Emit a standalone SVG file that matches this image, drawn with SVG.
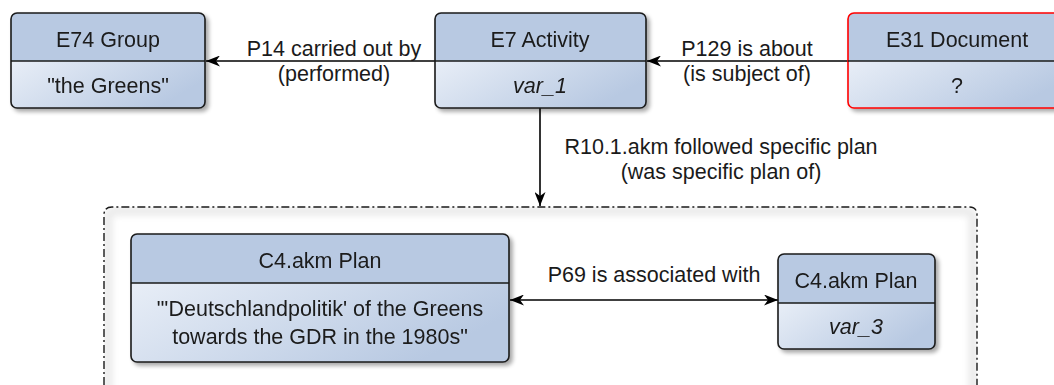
<svg xmlns="http://www.w3.org/2000/svg" width="1054" height="385" viewBox="0 0 1054 385">
<style>
text{font-family:"Liberation Sans",Arial,sans-serif;font-size:21.5px;fill:#1a1a1a;text-anchor:middle}
.it{font-style:italic}
.hdr{fill:#b8c9e2}
.body{fill:url(#bodyGrad)}
.frame{fill:none;stroke:#1a1a1a;stroke-width:1.6}
.red{stroke:#ff0000}
.div{stroke:#1a1a1a;stroke-width:1.6}
.conn{stroke:#000;stroke-width:1.6;fill:none}
</style>
<defs>
<linearGradient id="bodyGrad" x1="0" y1="0" x2="1" y2="0.4">
<stop offset="0" stop-color="#e8eef7"/>
<stop offset="1" stop-color="#b8c9e2"/>
</linearGradient>
<filter id="shadow" x="-10%" y="-10%" width="130%" height="140%">
<feGaussianBlur in="SourceAlpha" stdDeviation="2"/>
<feOffset dx="3" dy="3" result="b"/>
<feComponentTransfer><feFuncA type="linear" slope="0.35"/></feComponentTransfer>
<feMerge><feMergeNode/><feMergeNode in="SourceGraphic"/></feMerge>
</filter>
<filter id="blur" x="-5%" y="-5%" width="110%" height="110%">
<feGaussianBlur stdDeviation="3"/>
</filter>
<clipPath id="cclip">
<path d="M104,390 L104,215 Q104,207 112,207 L969,207 Q977,207 977,215 L977,390 Z"/>
</clipPath>
<marker id="arr" viewBox="0 0 14 11" refX="14" refY="5.5" markerWidth="14" markerHeight="11" markerUnits="userSpaceOnUse" orient="auto-start-reverse">
<path d="M0,0 L14,5.5 L0,11 L4,5.5 Z" fill="#000"/>
</marker>
</defs>

<g id="container">
<path d="M104,390 L104,215 Q104,207 112,207 L969,207 Q977,207 977,215 L977,390 Z" fill="#ffffff"/>
<g clip-path="url(#cclip)">
<path d="M108,395 L108,219 Q108,211 116,211 L965,211 Q973,211 973,219 L973,395" fill="none" stroke="#ececec" stroke-width="10" filter="url(#blur)"/>
</g>
<path d="M104,385 L104,215 Q104,207 112,207 L969,207 Q977,207 977,215 L977,385" fill="none" stroke="#1a1a1a" stroke-width="1.4" stroke-dasharray="8 3 2 3"/>
</g>

<g id="connectors">
<line class="conn" x1="435" y1="61" x2="206" y2="61" marker-end="url(#arr)"/>
<line class="conn" x1="848" y1="61" x2="647" y2="61" marker-end="url(#arr)"/>
<line class="conn" x1="540" y1="108" x2="540" y2="206" marker-end="url(#arr)"/>
<line class="conn" x1="510" y1="300" x2="778" y2="300" marker-start="url(#arr)" marker-end="url(#arr)"/>
<text x="334" y="56">P14 carried out by</text>
<text x="334" y="81">(performed)</text>
<text x="747" y="56">P129 is about</text>
<text x="747" y="81">(is subject of)</text>
<text x="721" y="154">R10.1.akm followed specific plan</text>
<text x="721" y="179">(was specific plan of)</text>
<text x="654" y="282">P69 is associated with</text>
</g>

<g id="e74" filter="url(#shadow)">
<path class="hdr" d="M11,61 V19 Q11,13 17,13 H199 Q205,13 205,19 V61 Z"/>
<path class="body" d="M11,61 H205 V102 Q205,108 199,108 H17 Q11,108 11,102 Z"/>
<rect class="frame" x="11" y="13" width="194" height="95" rx="6"/>
<line class="div" x1="11" y1="61" x2="205" y2="61"/>
<text x="108" y="47">E74 Group</text>
<text x="108" y="93">"the Greens"</text>
</g>

<g id="e7" filter="url(#shadow)">
<path class="hdr" d="M435,61 V19 Q435,13 441,13 H640 Q646,13 646,19 V61 Z"/>
<path class="body" d="M435,61 H646 V102 Q646,108 640,108 H441 Q435,108 435,102 Z"/>
<rect class="frame" x="435" y="13" width="211" height="95" rx="6"/>
<line class="div" x1="435" y1="61" x2="646" y2="61"/>
<text x="540" y="47">E7 Activity</text>
<text x="540" y="93" class="it">var_1</text>
</g>

<g id="e31" filter="url(#shadow)">
<path class="hdr" d="M848,61 V19 Q848,13 854,13 H1060 Q1066,13 1066,19 V61 Z"/>
<path class="body" d="M848,61 H1066 V102 Q1066,108 1060,108 H854 Q848,108 848,102 Z"/>
<rect class="frame red" x="848" y="13" width="218" height="95" rx="6"/>
<line class="div red" x1="848" y1="61" x2="1066" y2="61"/>
<text x="957" y="47">E31 Document</text>
<text x="957" y="93">?</text>
</g>

<g id="plan1" filter="url(#shadow)">
<path class="hdr" d="M131,283 V240 Q131,234 137,234 H503 Q509,234 509,240 V283 Z"/>
<path class="body" d="M131,283 H509 V356 Q509,362 503,362 H137 Q131,362 131,356 Z"/>
<rect class="frame" x="131" y="234" width="378" height="128" rx="6"/>
<line class="div" x1="131" y1="283" x2="509" y2="283"/>
<text x="320" y="268">C4.akm Plan</text>
<text x="320" y="316">"'Deutschlandpolitik' of the Greens</text>
<text x="320" y="344">towards the GDR in the 1980s"</text>
</g>

<g id="plan3" filter="url(#shadow)">
<path class="hdr" d="M778,303 V260 Q778,254 784,254 H929 Q935,254 935,260 V303 Z"/>
<path class="body" d="M778,303 H935 V343 Q935,349 929,349 H784 Q778,349 778,343 Z"/>
<rect class="frame" x="778" y="254" width="157" height="95" rx="6"/>
<line class="div" x1="778" y1="303" x2="935" y2="303"/>
<text x="856" y="288">C4.akm Plan</text>
<text x="856" y="334" class="it">var_3</text>
</g>
</svg>
